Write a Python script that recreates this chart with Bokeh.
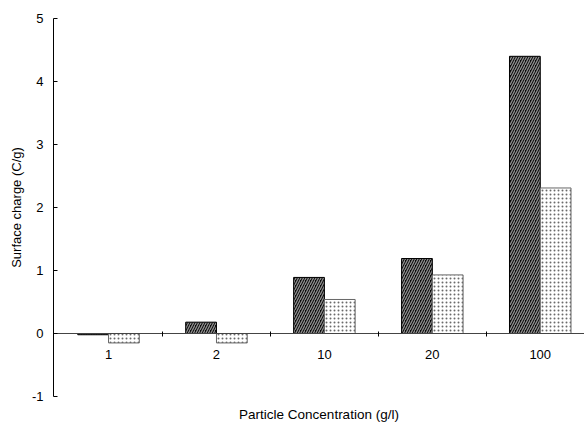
from bokeh.plotting import figure
from bokeh.models import Range1d, LinearAxis, FixedTicker, ColumnDataSource
from bokeh.transform import dodge
from bokeh.embed import file_html
from bokeh.resources import INLINE

# Surface charge per particle concentration, two series
categories = ["1", "2", "10", "20", "100"]
series_dark = [-0.02, 0.18, 0.89, 1.19, 4.40]
series_light = [-0.15, -0.15, 0.54, 0.93, 2.31]
y_ticks = [-1, 0, 1, 2, 3, 4, 5]

FONT = "Liberation Sans"

positions = list(range(len(categories)))
source = ColumnDataSource(dict(x=positions, dark=series_dark, light=series_light))

p = figure(
    frame_width=531, frame_height=378,
    x_range=Range1d(-0.51, 4.41), y_range=Range1d(-1, 5),
    output_backend="svg", toolbar_location=None,
    x_axis_location=None, y_axis_location="left",
    min_border_left=53, min_border_top=18, min_border_right=0, min_border_bottom=0,
)
p.background_fill_color = "white"
p.border_fill_color = "white"
p.outline_line_color = None
p.xgrid.visible = False
p.ygrid.visible = False

bar_w = 0.285
p.vbar(x=dodge("x", -bar_w / 2, range=p.x_range), top="dark", bottom=0, width=bar_w,
       source=source, fill_color="#0a0a0a", line_color="#000000", line_width=1,
       hatch_pattern="right_diagonal_line", hatch_color="#8f8f8f",
       hatch_scale=5, hatch_weight=1.3)
p.vbar(x=dodge("x", bar_w / 2, range=p.x_range), top="light", bottom=0, width=bar_w,
       source=source, fill_color="white", line_color="#666666", line_width=1,
       hatch_pattern="dot", hatch_color="#6a6a6a", hatch_scale=4, hatch_weight=0.7)

# Y axis with inward ticks
yax = p.yaxis[0]
yax.ticker = FixedTicker(ticks=y_ticks)
yax.major_label_overrides = {-1: "-1"}
yax.axis_label = "Surface charge (C/g)"
yax.axis_label_text_font = FONT
yax.axis_label_text_font_style = "normal"
yax.axis_label_text_font_size = "13px"
yax.axis_label_text_color = "black"
yax.axis_label_standoff = 5
yax.major_label_text_font = FONT
yax.major_label_text_font_size = "13px"
yax.major_label_text_color = "black"
yax.major_label_standoff = 10
yax.major_tick_in = 4
yax.major_tick_out = 0
yax.minor_tick_line_color = None
yax.axis_line_color = "black"
yax.major_tick_line_color = "black"

# Category axis drawn along zero
cat_axis = LinearAxis(fixed_location=0)
cat_axis.ticker = FixedTicker(ticks=positions, minor_ticks=[0.5, 1.5, 2.5, 3.5])
cat_axis.major_label_overrides = {i: c for i, c in zip(positions, categories)}
cat_axis.major_label_text_font = FONT
cat_axis.major_label_text_font_size = "13px"
cat_axis.major_label_text_color = "black"
cat_axis.major_label_standoff = 10
cat_axis.major_tick_line_color = None
cat_axis.minor_tick_in = 2
cat_axis.minor_tick_out = 3
cat_axis.minor_tick_line_color = "black"
cat_axis.axis_line_color = "#444444"
p.add_layout(cat_axis, "below")

# Axis title below the frame
title_axis = LinearAxis(ticker=FixedTicker(ticks=[]))
title_axis.axis_label = "Particle Concentration (g/l)"
title_axis.axis_label_text_font = FONT
title_axis.axis_label_text_font_style = "normal"
title_axis.axis_label_text_font_size = "13.5px"
title_axis.axis_label_text_color = "black"
title_axis.axis_line_color = None
title_axis.major_tick_line_color = None
title_axis.minor_tick_line_color = None
title_axis.major_label_text_font_size = "0px"
title_axis.axis_label_standoff = 10
p.add_layout(title_axis, "below")

open("out.html", "w").write(file_html(p, INLINE))
